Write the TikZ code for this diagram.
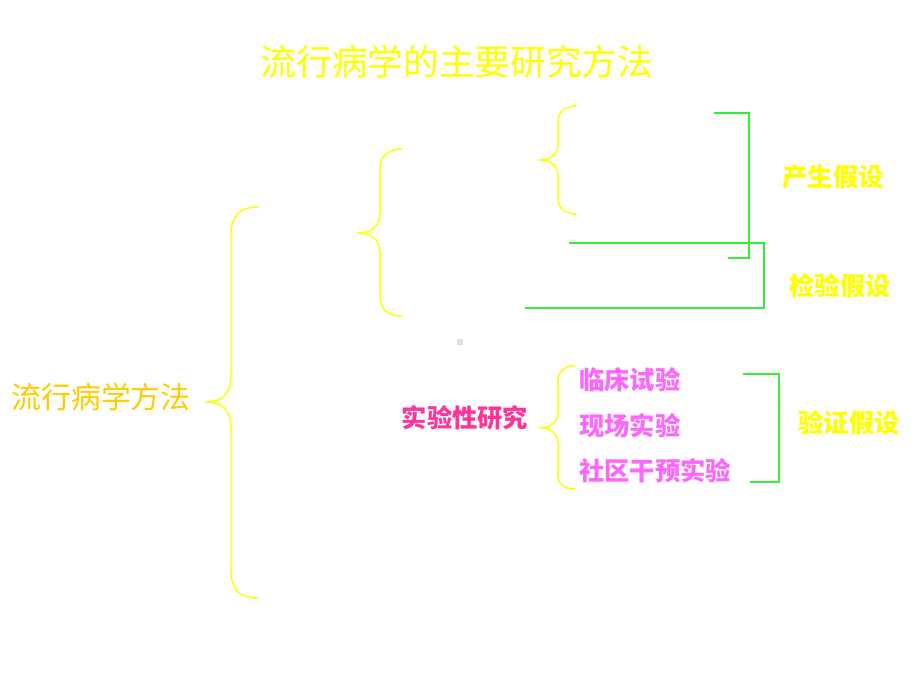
\documentclass[tikz,border=0pt]{standalone}
\usepackage{fontspec}
\newfontfamily\cjk{Noto Sans CJK SC}
\definecolor{titleyellow}{HTML}{FFFF00}
\definecolor{rootgold}{HTML}{FFCC00}
\definecolor{exppink}{HTML}{FF3399}
\definecolor{itemmagenta}{HTML}{FF66FF}
\definecolor{linegreen}{HTML}{33EE33}
\begin{document}
\begin{tikzpicture}[x=0.02cm,y=-0.02cm,
	brace/.style={draw=titleyellow,line width=0.85pt},
	bracket/.style={draw=linegreen,line width=0.85pt},
	label/.style={inner sep=0pt,font=\cjk\bfseries\fontsize{14.4}{16}\selectfont}]
	\useasboundingbox (0,0) rectangle (920,690);
	\node (title) at (457, 62)	[inner sep=0pt, text=titleyellow, font=\cjk\fontsize{20.3}{24}\selectfont]	{流行病学的主要研究方法};
	\node (root)  at (101,397)	[inner sep=0pt, text=rootgold, font=\cjk\fontsize{17}{20}\selectfont]	{流行病学方法};
	\node (gen)   at (833,177)	[label, text=titleyellow]	{产生假设};
	\node (test)  at (840,286)	[label, text=titleyellow]	{检验假设};
	\node (prove) at (849,423)	[label, text=titleyellow]	{验证假设};
	\node (exp)   at (465,418)	[label, text=exppink]	{实验性研究};
	\node (exp1)  at (579,380)	[label, anchor=west, text=itemmagenta]	{临床试验};
	\node (exp2)  at (579,426)	[label, anchor=west, text=itemmagenta]	{现场实验};
	\node (exp3)  at (579,471)	[label, anchor=west, text=itemmagenta]	{社区干预实验};
	\coordinate (t1) at (206,402);
	\coordinate (t2) at (358,233);
	\coordinate (t3) at (539,160);
	\coordinate (t4) at (540,428);
	% braces
	\draw[brace] (258,207) .. controls (240,207) and (231,215) .. (231,235) -- (231,375)
		.. controls (231,394) and (222,402) .. (t1) .. controls (222,402) and (231,410) .. (231,429)
		-- (231,570) .. controls (231,590) and (240,598) .. (258,598);
	\draw[brace] (402,149) .. controls (388,149) and (380,156) .. (380,170) -- (380,212)
		.. controls (380,227) and (371,233) .. (t2) .. controls (371,233) and (380,239) .. (380,254)
		-- (380,296) .. controls (380,310) and (388,316) .. (402,316);
	\draw[brace] (576,106) .. controls (564,106) and (558,112) .. (558,122) -- (558,144)
		.. controls (558,155) and (550,160) .. (t3) .. controls (550,160) and (558,165) .. (558,176)
		-- (558,198) .. controls (558,208) and (564,214) .. (576,214);
	\draw[brace] (575,366) .. controls (563,366) and (558,372) .. (558,382) -- (558,412)
		.. controls (558,423) and (550,428) .. (t4) .. controls (550,428) and (558,433) .. (558,444)
		-- (558,474) .. controls (558,484) and (563,489) .. (575,489);
	% brackets
	\draw[bracket] (714,113) -- (749,113) -- (749,258) -- (728,258);
	\draw[bracket] (569,243) -- (764,243) -- (764,308) -- (525,308);
	\draw[bracket] (743,374) -- (779,374) -- (779,482) -- (750,482);
	\fill[black!12] (457,339) rectangle (463,345);
\end{tikzpicture}
\end{document}
